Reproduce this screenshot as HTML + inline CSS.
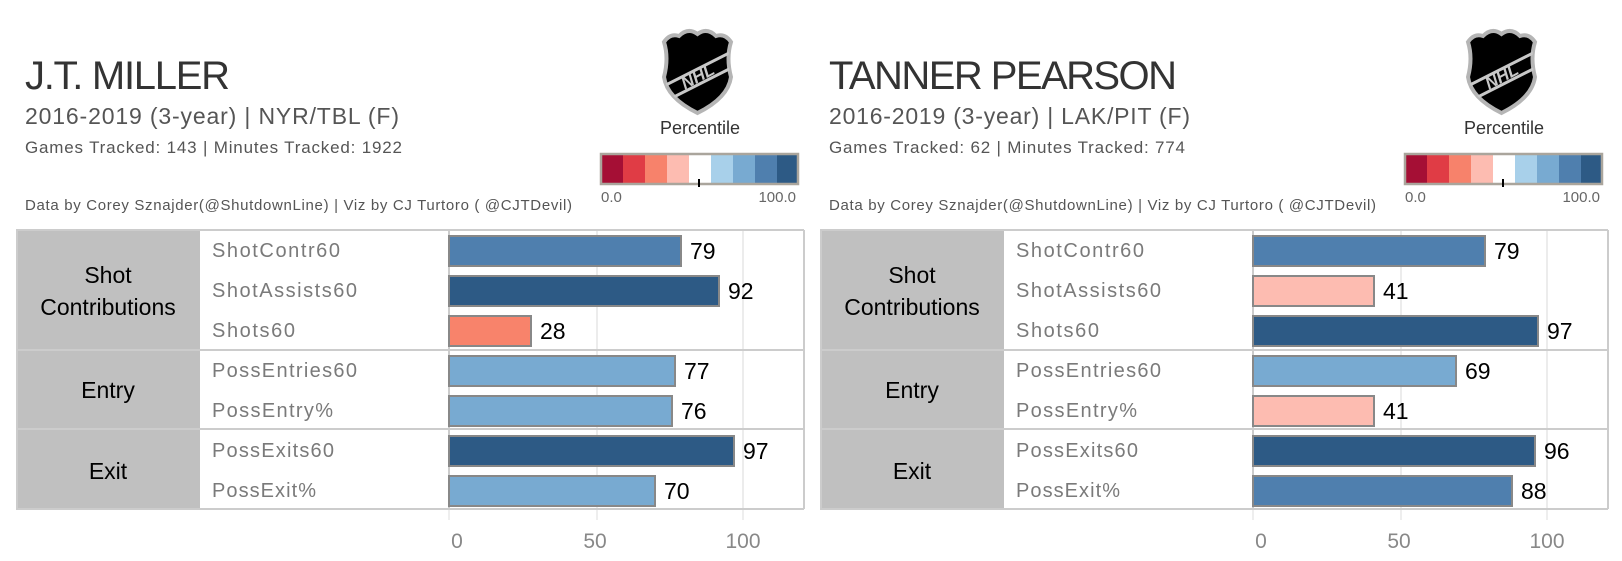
<!DOCTYPE html>
<html><head><meta charset="utf-8"><style>
html,body{margin:0;padding:0;background:#fff;}
svg{display:block;}
text{font-family:"Liberation Sans",sans-serif;}
</style></head><body>
<svg width="1622" height="561" viewBox="0 0 1622 561" xmlns="http://www.w3.org/2000/svg">
<defs>
<clipPath id="shc"><path d="M6,15 Q12,6 21,9 Q30,0 39.5,7 Q49,0 58,9 Q67,6 73,15 Q68,31 73,50 Q70,71 39.5,86 Q9,71 6,50 Q11,31 6,15 Z"/></clipPath>
<g id="logo">
<path d="M6,15 Q12,6 21,9 Q30,0 39.5,7 Q49,0 58,9 Q67,6 73,15 Q68,31 73,50 Q70,71 39.5,86 Q9,71 6,50 Q11,31 6,15 Z" fill="#000" stroke="#b5b5b5" stroke-width="4"/>
<g clip-path="url(#shc)">
<path d="M0,62 L79,22 M4,76 L79,38" stroke="#c8c8c8" stroke-width="3"/>
<text x="40" y="55" font-size="17" font-weight="bold" font-style="italic" fill="#c8c8c8" text-anchor="middle" transform="rotate(-28 40 50)">NHL</text>
</g>
</g>
<g id="legend">
<rect x="601" y="154" width="22" height="30" fill="#a50f35"/>
<rect x="623" y="154" width="22" height="30" fill="#e03c45"/>
<rect x="645" y="154" width="22" height="30" fill="#f7826b"/>
<rect x="667" y="154" width="22" height="30" fill="#fdbcb1"/>
<rect x="689" y="154" width="22" height="30" fill="#ffffff"/>
<rect x="711" y="154" width="22" height="30" fill="#a8d0ea"/>
<rect x="733" y="154" width="22" height="30" fill="#78aad1"/>
<rect x="755" y="154" width="22" height="30" fill="#4f7fae"/>
<rect x="777" y="154" width="21" height="30" fill="#2d5a85"/>
<rect x="601" y="154" width="197" height="30" fill="none" stroke="#aaa59c" stroke-width="2.5"/>
<line x1="699" y1="179" x2="699" y2="187" stroke="#000" stroke-width="2"/>
<text x="601" y="202" font-size="15" fill="#666">0.0</text>
<text x="796" y="202" font-size="15" fill="#666" text-anchor="end">100.0</text>
<text x="700" y="134" font-size="18" fill="#333" text-anchor="middle">Percentile</text>
</g>
<g id="frame">
<rect x="17" y="230" width="183" height="279" fill="#c0c0c0"/>
<line x1="597" y1="230" x2="597" y2="509" stroke="#ececec" stroke-width="2"/>
<line x1="743" y1="230" x2="743" y2="509" stroke="#ececec" stroke-width="2"/>
<line x1="449" y1="230" x2="449" y2="509" stroke="#ccc" stroke-width="2"/>
<line x1="449" y1="509" x2="449" y2="520" stroke="#eee" stroke-width="2"/>
<line x1="597" y1="509" x2="597" y2="520" stroke="#eee" stroke-width="2"/>
<line x1="743" y1="509" x2="743" y2="520" stroke="#eee" stroke-width="2"/>
<line x1="16" y1="230" x2="804" y2="230" stroke="#ccc" stroke-width="2"/>
<line x1="16" y1="350" x2="804" y2="350" stroke="#ccc" stroke-width="2"/>
<line x1="16" y1="429" x2="804" y2="429" stroke="#ccc" stroke-width="2"/>
<line x1="16" y1="509" x2="804" y2="509" stroke="#ccc" stroke-width="2"/>
<line x1="17" y1="230" x2="17" y2="509" stroke="#ccc" stroke-width="2"/>
<line x1="804" y1="230" x2="804" y2="509" stroke="#ccc" stroke-width="2"/>
<text x="108" y="283" font-size="23" fill="#000" text-anchor="middle">Shot</text>
<text x="108" y="315" font-size="23" fill="#000" text-anchor="middle">Contributions</text>
<text x="108" y="398" font-size="23" fill="#000" text-anchor="middle">Entry</text>
<text x="108" y="479" font-size="23" fill="#000" text-anchor="middle">Exit</text>
<g font-size="20" fill="#7a7a7a">
<text x="212" y="257" textLength="128">ShotContr60</text>
<text x="212" y="297" textLength="145">ShotAssists60</text>
<text x="212" y="337" textLength="83">Shots60</text>
<text x="212" y="377" textLength="145">PossEntries60</text>
<text x="212" y="417" textLength="121">PossEntry%</text>
<text x="212" y="457" textLength="122">PossExits60</text>
<text x="212" y="497" textLength="104">PossExit%</text>
</g>
<g font-size="21" fill="#888" text-anchor="middle">
<text x="457" y="548">0</text>
<text x="595" y="548">50</text>
<text x="743" y="548">100</text>
</g>
<g font-size="15" fill="#555">
<text x="25" y="210" textLength="547">Data by Corey Sznajder(@ShutdownLine) | Viz by CJ Turtoro ( @CJTDevil)</text>
</g>
<use href="#legend"/>
<use href="#logo" x="658" y="27"/>
</g>
</defs>

<use href="#frame"/>
<use href="#frame" x="804"/>

<text x="25" y="89" font-size="40" fill="#333" textLength="205">J.T. MILLER</text>
<text x="25" y="124" font-size="23" fill="#555" textLength="374">2016-2019 (3-year) | NYR/TBL (F)</text>
<text x="25" y="153" font-size="17" fill="#555" textLength="377">Games Tracked: 143  | Minutes Tracked: 1922</text>
<text x="829" y="89" font-size="40" fill="#333" textLength="348">TANNER PEARSON</text>
<text x="829" y="124" font-size="23" fill="#555" textLength="361">2016-2019 (3-year) | LAK/PIT (F)</text>
<text x="829" y="153" font-size="17" fill="#555" textLength="356">Games Tracked: 62  | Minutes Tracked: 774</text>

<g stroke="#888" stroke-width="2">
<rect x="449" y="236" width="232" height="30" fill="#4f7fae"/>
<rect x="449" y="276" width="270" height="30" fill="#2d5a85"/>
<rect x="449" y="316" width="82" height="30" fill="#f8836b"/>
<rect x="449" y="356" width="226" height="30" fill="#78aad1"/>
<rect x="449" y="396" width="223" height="30" fill="#78aad1"/>
<rect x="449" y="436" width="285" height="30" fill="#2d5a85"/>
<rect x="449" y="476" width="206" height="30" fill="#78aad1"/>
<rect x="1253" y="236" width="232" height="30" fill="#4f7fae"/>
<rect x="1253" y="276" width="121" height="30" fill="#fdbcb1"/>
<rect x="1253" y="316" width="285" height="30" fill="#2d5a85"/>
<rect x="1253" y="356" width="203" height="30" fill="#78aad1"/>
<rect x="1253" y="396" width="121" height="30" fill="#fdbcb1"/>
<rect x="1253" y="436" width="282" height="30" fill="#2d5a85"/>
<rect x="1253" y="476" width="259" height="30" fill="#4f7fae"/>
</g>
<g font-size="23" fill="#000">
<text x="690" y="259">79</text>
<text x="728" y="299">92</text>
<text x="540" y="339">28</text>
<text x="684" y="379">77</text>
<text x="681" y="419">76</text>
<text x="743" y="459">97</text>
<text x="664" y="499">70</text>
<text x="1494" y="259">79</text>
<text x="1383" y="299">41</text>
<text x="1547" y="339">97</text>
<text x="1465" y="379">69</text>
<text x="1383" y="419">41</text>
<text x="1544" y="459">96</text>
<text x="1521" y="499">88</text>
</g>
</svg>
</body></html>
